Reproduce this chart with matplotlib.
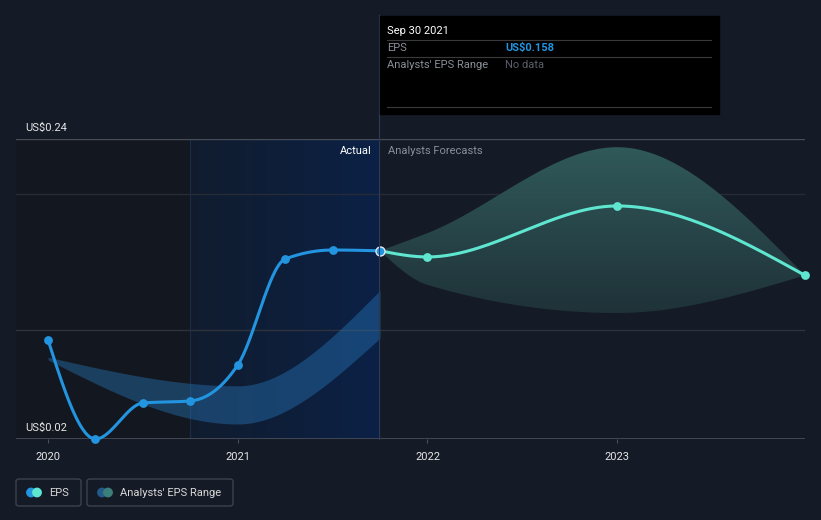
import numpy as np
import matplotlib
matplotlib.use("Agg")
from matplotlib import pyplot as plt
from matplotlib.patches import Rectangle, FancyBboxPatch, Polygon, Ellipse

plt.rcParams['font.family'] = ['Roboto', 'DejaVu Sans']

# EPS actuals (quarterly)
eps_x = [2020.0, 2020.25, 2020.5, 2020.75, 2021.0, 2021.25, 2021.5, 2021.75]
eps_y = [0.0926, 0.020, 0.0464, 0.0479, 0.0743, 0.152, 0.1586, 0.158]

# past analyst range band
past_x = [2020.0, 2021.0, 2021.75]
past_hi = [0.080, 0.059, 0.129]
past_lo = [0.078, 0.031, 0.094]

# forecasts
fc_x = [2021.75, 2022.0, 2023.0, 2023.99]
fc_y = [0.158, 0.1535, 0.1909, 0.140]
fc_hi = [0.158, 0.171, 0.234, 0.140]
fc_lo = [0.158, 0.133, 0.1124, 0.140]

years = [2020, 2021, 2022, 2023]

BG = '#151b26'
BLUE = '#2394df'
MINT = '#5fe6d0'


def smooth(x, y, n=60):
    # monotone cubic curve through the points (like d3 curveMonotoneX)
    x = np.asarray(x, float); y = np.asarray(y, float)
    h = np.diff(x); s = np.diff(y) / h
    m = np.zeros_like(y)
    for i in range(1, len(x) - 1):
        p = (s[i-1] * h[i] + s[i] * h[i-1]) / (h[i-1] + h[i])
        m[i] = (np.sign(s[i-1]) + np.sign(s[i])) * min(abs(s[i-1]), abs(s[i]), 0.5 * abs(p))
    if len(x) > 2:
        m[0] = (3 * s[0] - m[1]) / 2
        m[-1] = (3 * s[-1] - m[-2]) / 2
    else:
        m[0], m[-1] = s[0], s[-1]
    xs, ys = [], []
    for i in range(len(x) - 1):
        t = np.linspace(0, 1, n)
        h00 = 2*t**3 - 3*t**2 + 1; h10 = t**3 - 2*t**2 + t
        h01 = -2*t**3 + 3*t**2; h11 = t**3 - t**2
        xs.append(x[i] + t * h[i])
        ys.append(h00*y[i] + h10*h[i]*m[i] + h01*y[i+1] + h11*h[i]*m[i+1])
    return np.concatenate(xs), np.concatenate(ys)


def fx_(px):
    return px / 821


def fy_(py):
    return 1 - py / 520


fig = plt.figure(figsize=(8.21, 5.2), dpi=100, facecolor=BG)
ax = fig.add_axes([16/821, 81/520, 789/821, 300/520])
ax.set_facecolor(BG)
ax.set_xlim(2019.831, 2023.99)
ax.set_ylim(0.02, 0.24)
for sp in ax.spines.values():
    sp.set_visible(False)

# shaded past regions
ax.add_patch(Rectangle((2019.831, 0.02), 2020.75 - 2019.831, 0.22, color='#131820', zorder=0, lw=0))
grad = np.linspace(0, 1, 256).reshape(1, -1)
cmap = matplotlib.colors.LinearSegmentedColormap.from_list('hl', ['#111c2e', '#0b2146'])
ax.imshow(grad, extent=(2020.75, 2021.75, 0.02, 0.24), aspect='auto', cmap=cmap, zorder=0.5)
ax.axvline(2020.75, color='#1b2c47', lw=0.8, zorder=0.6)

# gridlines
ax.axhline(0.24, color='#474c57', lw=1, zorder=1)
ax.axhline(0.20, color='#252b37', lw=1, zorder=1)
ax.axhline(0.10, color='#2d323d', lw=1, zorder=1)
ax.axhline(0.02, color='#4a4f5a', lw=1.2, zorder=1)

# past analyst range band
bx, bhi = smooth(past_x, past_hi)
_, blo = smooth(past_x, past_lo)
ax.fill_between(bx, blo, bhi, color='#2a7fc8', alpha=0.38, lw=0, zorder=2)

# forecast band, vertical gradient
fx, fhi = smooth(fc_x, fc_hi)
_, flo = smooth(fc_x, fc_lo)
poly = Polygon(np.column_stack([np.r_[fx, fx[::-1]], np.r_[fhi, flo[::-1]]]),
               closed=True, facecolor='none', edgecolor='none')
ax.add_patch(poly)
vgrad = np.linspace(1, 0, 256).reshape(-1, 1)
cmap2 = matplotlib.colors.LinearSegmentedColormap.from_list('fc', ['#1d2e35', '#315b5b'])
im = ax.imshow(vgrad, extent=(2021.75, 2023.99, 0.10, 0.24), aspect='auto', cmap=cmap2, zorder=2)
im.set_clip_path(poly)

# lines
ex, ey = smooth(eps_x, eps_y)
ax.plot(ex, ey, color=BLUE, lw=2.2, zorder=4, clip_on=False, solid_capstyle='round')
ax.scatter(eps_x[:-1], eps_y[:-1], s=40, color=BLUE, zorder=5, clip_on=False, lw=0)
cx, cy = smooth(fc_x, fc_y)
ax.plot(cx, cy, color=MINT, lw=2.2, zorder=4, clip_on=False)
ax.scatter(fc_x[1:], fc_y[1:], s=40, color=MINT, zorder=5, clip_on=False, lw=0)
ax.scatter([eps_x[-1]], [eps_y[-1]], s=42, color=BLUE, edgecolors='#dfe8f5', linewidths=1, zorder=6, clip_on=False)

# ticks
ax.set_yticks([])
ax.set_xticks(years)
ax.set_xticklabels([str(y) for y in years], color='#e6e6e6', fontsize=8)
ax.tick_params(axis='x', length=3, color='#4a4f5a', pad=6)

# y labels
ax.text(2019.831 + 9/189.7, 0.24 + 0.0045, 'US$0.24', color='#e6e6e6', fontsize=8, va='bottom', ha='left')
ax.text(2019.831 + 9/189.7, 0.02 + 0.0045, 'US$0.02', color='#e6e6e6', fontsize=8, va='bottom', ha='left')

ax.text(2021.75 - 0.045, 0.2315, 'Actual', color='#ffffff', fontsize=8, ha='right', va='center')
ax.text(2021.75 + 0.04, 0.2315, 'Analysts Forecasts', color='#8a8f98', fontsize=8, ha='left', va='center')

# vertical divider through tooltip
fig.add_artist(plt.Line2D([fx_(379), fx_(379)], [fy_(15), fy_(439)], color='#2b3a55', lw=0.8, zorder=0.7))

# tooltip
fig.add_artist(Rectangle((fx_(380), fy_(114)), fx_(339), 98/520, color='#000000', zorder=5))
for yy in [40, 57, 107]:
    fig.add_artist(plt.Line2D([fx_(387), fx_(711)], [fy_(yy), fy_(yy)], color='#3a3a3a', lw=0.8, zorder=6))
fig.text(fx_(387), fy_(31), 'Sep 30 2021', color='#ffffff', fontsize=8, va='center', zorder=7)
fig.text(fx_(387), fy_(48), 'EPS', color='#8a8f98', fontsize=8, va='center', zorder=7)
fig.text(fx_(505), fy_(48), 'US$0.158', color=BLUE, fontsize=8, va='center', weight='bold', zorder=7)
fig.text(fx_(387), fy_(65), "Analysts' EPS Range", color='#8a8f98', fontsize=8, va='center', zorder=7)
fig.text(fx_(505), fy_(65), 'No data', color='#5a5f68', fontsize=8, va='center', zorder=7)


# legend
def legend_item(x0, x1, c1, c2, label):
    fig.add_artist(FancyBboxPatch((fx_(x0), fy_(506)), fx_(x1 - x0), 27/520,
                                  boxstyle='round,pad=0,rounding_size=0.004',
                                  facecolor='none', edgecolor='#3d424c', lw=1))
    cyy = fy_(492.5)
    r = 4.2
    fig.add_artist(Ellipse((fx_(x0 + 15), cyy), 2*r/821, 2*r/520, color=c1))
    fig.add_artist(Ellipse((fx_(x0 + 21), cyy), 2*r/821, 2*r/520, color=c2))
    fig.text(fx_(x0 + 33), cyy, label, color='#d8d8d8', fontsize=8, va='center')


legend_item(16, 81, BLUE, MINT, 'EPS')
legend_item(87, 233, '#245a8a', '#3b7f7a', "Analysts' EPS Range")

fig.savefig('out.png', dpi=100, facecolor=BG)
